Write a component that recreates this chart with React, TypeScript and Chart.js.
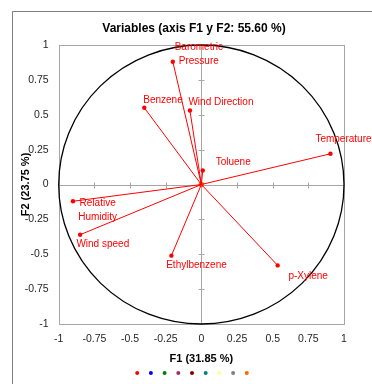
import React, { useEffect, useRef } from "react";
import { Chart, registerables } from "chart.js";

Chart.register(...registerables);

const variables = [
  "Barometric\nPressure",
  "Benzene",
  "Wind Direction",
  "Temperature",
  "Toluene",
  "Relative\nHumidity",
  "Wind speed",
  "Ethylbenzene",
  "p-Xylene",
];
const f1 = [-0.2, -0.4, -0.08, 0.905, 0.01, -0.9, -0.85, -0.21, 0.535];
const f2 = [0.88, 0.55, 0.53, 0.22, 0.1, -0.12, -0.36, -0.51, -0.58];
const tickValues = [-1, -0.75, -0.5, -0.25, 0, 0.25, 0.5, 0.75, 1];
const legendColors = [
  "#ff0000",
  "#0000ff",
  "#008000",
  "#993366",
  "#800000",
  "#008080",
  "#ffff99",
  "#808080",
  "#ff6600",
];

const TITLE = "Variables (axis F1 y F2: 55.60 %)";
const X_TITLE = "F1 (31.85 %)";
const Y_TITLE = "F2 (23.75 %)";

// label offsets (px) of the text block centre relative to its point
const labelOffsets: [number, number][] = [
  [26, -7.7],
  [18.7, -8],
  [31, -8.6],
  [13, -14.7],
  [30.4, -8.3],
  [24.7, 9.5],
  [22.7, 9.3],
  [25.1, 9.6],
  [30.5, 10.4],
];

const RED = "#ff0000";
const GRAY = "#a6a6a6";
const FONT = "'Liberation Sans', Arial, sans-serif";

const decorPlugin = {
  id: "decor",
  beforeDatasetsDraw(chart: any) {
    const { ctx, chartArea, scales } = chart;
    const xs = scales.x;
    const ys = scales.y;
    ctx.save();
    // outer frame
    ctx.strokeStyle = "#7f7f7f";
    ctx.lineWidth = 1;
    ctx.beginPath();
    ctx.moveTo(12.5, 384);
    ctx.lineTo(12.5, 11.5);
    ctx.lineTo(372, 11.5);
    ctx.stroke();
    // plot border
    ctx.strokeStyle = GRAY;
    ctx.strokeRect(
      Math.round(chartArea.left) + 0.5,
      Math.round(chartArea.top) + 0.5,
      Math.round(chartArea.right - chartArea.left),
      Math.round(chartArea.bottom - chartArea.top)
    );
    // axes through origin
    const cx = Math.round(xs.getPixelForValue(0)) + 0.5;
    const cy = Math.round(ys.getPixelForValue(0)) + 0.5;
    ctx.beginPath();
    ctx.moveTo(chartArea.left, cy);
    ctx.lineTo(chartArea.right, cy);
    ctx.moveTo(cx, chartArea.top);
    ctx.lineTo(cx, chartArea.bottom);
    for (const v of tickValues) {
      const px = Math.round(xs.getPixelForValue(v)) + 0.5;
      ctx.moveTo(px, cy - 3);
      ctx.lineTo(px, cy + 3);
      const py = Math.round(ys.getPixelForValue(v)) + 0.5;
      ctx.moveTo(cx - 3, py);
      ctx.lineTo(cx + 3, py);
    }
    ctx.stroke();
    // correlation circle
    const ox = xs.getPixelForValue(0);
    const oy = ys.getPixelForValue(0);
    const rx = xs.getPixelForValue(1) - ox;
    const ry = oy - ys.getPixelForValue(1);
    ctx.strokeStyle = "#000000";
    ctx.lineWidth = 1.3;
    ctx.beginPath();
    ctx.ellipse(ox, oy, rx, ry, 0, 0, Math.PI * 2);
    ctx.stroke();
    ctx.restore();
  },
  afterDraw(chart: any) {
    const { ctx, scales } = chart;
    const xs = scales.x;
    const ys = scales.y;
    ctx.save();
    // title
    ctx.fillStyle = "#000000";
    ctx.font = `bold 12px ${FONT}`;
    ctx.textAlign = "center";
    ctx.textBaseline = "middle";
    ctx.fillText(TITLE, 194, 29);
    // variable labels
    ctx.fillStyle = RED;
    ctx.font = `10px ${FONT}`;
    variables.forEach((name, i) => {
      const lines = name.split("\n");
      const px = xs.getPixelForValue(f1[i]) + labelOffsets[i][0];
      const py = ys.getPixelForValue(f2[i]) + labelOffsets[i][1];
      const lh = 14;
      lines.forEach((ln, k) => {
        ctx.fillText(ln, px, py + (k - (lines.length - 1) / 2) * lh);
      });
    });
    // legend markers
    const step = 13.7;
    const start = 192 - ((legendColors.length - 1) / 2) * step;
    legendColors.forEach((c, i) => {
      ctx.fillStyle = c;
      ctx.beginPath();
      ctx.arc(start + i * step, 373, 2, 0, Math.PI * 2);
      ctx.fill();
    });
    ctx.restore();
  },
};

export default function App() {
  const ref = useRef<HTMLCanvasElement>(null);
  useEffect(() => {
    if (!ref.current) return;
    const datasets: any[] = variables.map((name, i) => ({
      label: name.replace("\n", " "),
      data: [
        { x: 0, y: 0 },
        { x: f1[i], y: f2[i] },
      ],
      showLine: true,
      borderColor: RED,
      borderWidth: 1,
      backgroundColor: RED,
      pointBackgroundColor: RED,
      pointBorderColor: RED,
      pointRadius: [0, 2.2],
      pointBorderWidth: 0,
    }));
    datasets.push({
      label: "origin",
      data: [{ x: 0, y: 0 }],
      pointBackgroundColor: "#ff6600",
      pointBorderColor: "#ff6600",
      pointRadius: 2.8,
      pointBorderWidth: 0,
    });
    const tickFont = { family: FONT, size: 10.5 };
    const chart = new Chart(ref.current, {
      type: "scatter",
      data: { datasets },
      plugins: [decorPlugin],
      options: {
        animation: false,
        responsive: false,
        devicePixelRatio: 1,
        layout: { padding: { top: 45, left: 13, right: 28, bottom: 18 } },
        plugins: {
          legend: { display: false },
          tooltip: { enabled: false },
          title: { display: false },
        },
        scales: {
          x: {
            type: "linear",
            min: -1,
            max: 1,
            afterBuildTicks: (s: any) => {
              s.ticks = tickValues.map((v) => ({ value: v }));
            },
            afterFit: (s: any) => {
              s.height = 42;
            },
            grid: { display: false, drawTicks: false },
            border: { display: false },
            ticks: {
              padding: 9,
              color: "#262626",
              font: tickFont,
              callback: (v: any) => String(v),
              maxRotation: 0,
              autoSkip: false,
            },
            title: {
              display: true,
              text: X_TITLE,
              color: "#000000",
              font: { family: FONT, size: 11, weight: "bold" },
              padding: { top: 0, bottom: 0 },
            },
          },
          y: {
            type: "linear",
            min: -1,
            max: 1,
            afterBuildTicks: (s: any) => {
              s.ticks = tickValues.map((v) => ({ value: v }));
            },
            afterFit: (s: any) => {
              s.width = 45.7;
            },
            grid: { display: false, drawTicks: false },
            border: { display: false },
            ticks: {
              padding: 10,
              color: "#262626",
              font: tickFont,
              callback: (v: any) => String(v),
              autoSkip: false,
            },
            title: {
              display: true,
              text: Y_TITLE,
              color: "#000000",
              font: { family: FONT, size: 11, weight: "bold" },
              padding: { top: 6.4, bottom: 0 },
            },
          },
        },
      } as any,
    });
    return () => chart.destroy();
  }, []);
  return (
    <div style={{ position: "absolute", left: 0, top: 0, width: 372, height: 384, background: "#ffffff" }}>
      <canvas ref={ref} width={372} height={384} style={{ display: "block" }} />
    </div>
  );
}
